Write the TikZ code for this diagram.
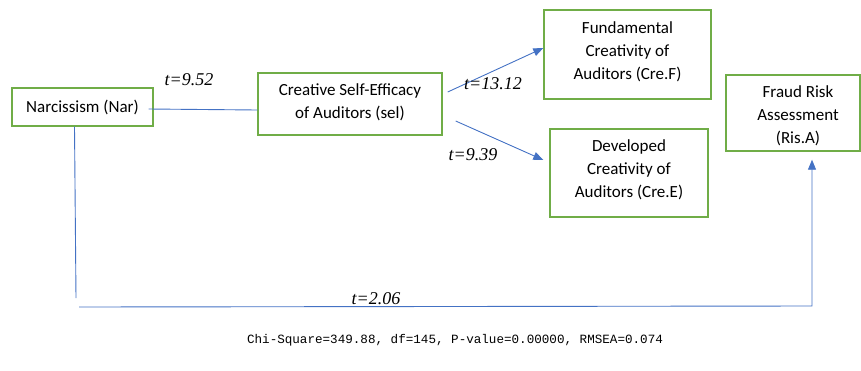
\documentclass[tikz,border=0pt]{standalone}
\usepackage{fontspec}
\setmainfont{Carlito}
\newfontfamily\tfont{Liberation Serif}
\newfontfamily\mfont{Liberation Mono}
\usetikzlibrary{arrows.meta}
\definecolor{boxgreen}{RGB}{112,173,71}
\definecolor{lineblue}{RGB}{68,114,196}
\tikzset{
  box/.style={draw=boxgreen, line width=1.4pt, inner sep=0pt, fill=white},
  boxtext/.style={align=center, font=\fontsize{17}{23}\selectfont, inner sep=0pt},
  conn/.style={draw=lineblue, line width=0.9pt},
  arr/.style={conn, -{Triangle[length=10pt,width=8pt]}},
  tlab/.style={font=\tfont\itshape\fontsize{18}{20}\selectfont, inner sep=0pt}
}
\begin{document}
\begin{tikzpicture}[x=1pt,y=-1pt]
\useasboundingbox (0,0) rectangle (861,370);
% boxes
\node[box, minimum width=141pt, minimum height=38pt] (nar) at (82.5,107) {};
\node[boxtext] (nartxt) at (82.5,107) {Narcissism (Nar)};
\node[box, minimum width=184pt, minimum height=62pt] (sel) at (350,104) {};
\node[boxtext] (seltxt) at (350,102.5) {Creative Self-Efficacy\\of Auditors (sel)};
\node[box, minimum width=167pt, minimum height=89pt] (creF) at (627.5,54.5) {};
\node[boxtext] (creFtxt) at (627.5,52) {Fundamental\\Creativity of\\Auditors (Cre.F)};
\node[box, minimum width=158pt, minimum height=88pt] (creE) at (629,173) {};
\node[boxtext] (creEtxt) at (629,170) {Developed\\Creativity of\\Auditors (Cre.E)};
\node[box, minimum width=134pt, minimum height=76pt] (risA) at (793,113) {};
\begin{scope}
\clip (726,75) rectangle (861,150);
\node[boxtext] (risAtxt) at (798,115.5) {Fraud Risk\\Assessment\\(Ris.A)};
\end{scope}
% connectors
\draw[conn] ([xshift=-5pt,yshift=-2pt]nar.east) -- ([yshift=-6pt]sel.west);
\draw[arr] ([xshift=5pt,yshift=12pt]sel.east) -- ([yshift=6.5pt]creF.west);
\draw[arr] ([xshift=13pt,yshift=-17pt]sel.east) -- ([xshift=-6pt,yshift=13pt]creE.west);
\coordinate (c1) at (76,298);
\coordinate (c2) at (79,307);
\coordinate (c3) at (812,306);
\draw[conn] ([xshift=-8pt]nar.south) -- (c1);
\draw[arr] (c2) -- (c3) -- ([xshift=19pt,yshift=-8pt]risA.south);
% labels
\node[tlab] (t1) at (189,80) {t=9.52};
\node[tlab] (t2) at (493,84) {t=13.12};
\node[tlab] (t3) at (473,155) {t=9.39};
\node[tlab] (t4) at (376,299) {t=2.06};
\node[font=\mfont\fontsize{12.6}{15}\selectfont, inner sep=0pt] (chi) at (455,340) {Chi-Square=349.88, df=145, P-value=0.00000, RMSEA=0.074};
\end{tikzpicture}
\end{document}
